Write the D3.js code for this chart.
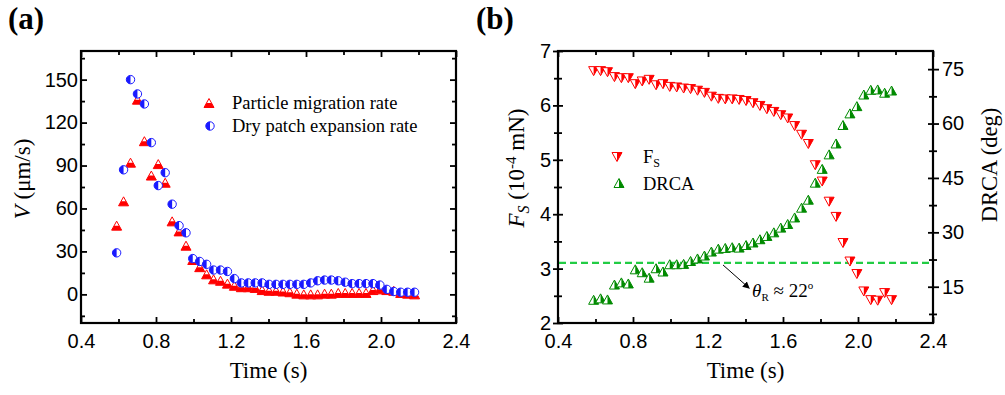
<!DOCTYPE html>
<html><head><meta charset="utf-8">
<script src="https://cdn.jsdelivr.net/npm/d3@7"></script>
<style>body{margin:0;background:#fff;} svg{display:block;}</style>
</head><body><svg id="c" width="1005" height="395"></svg>
<script>
// ---------- data ----------
const time = [0.590,0.627,0.664,0.701,0.738,0.775,0.812,0.849,0.886,0.923,0.960,0.996,1.033,1.070,1.107,1.144,1.181,1.218,1.255,1.292,1.329,1.366,1.403,1.440,1.477,1.514,1.551,1.588,1.625,1.662,1.699,1.735,1.772,1.809,1.846,1.883,1.920,1.957,1.994,2.031,2.068,2.105,2.142,2.179];
const migrationRate = [48,65,92,136,107,83,91,78,51,44,34,24,19,14,10.5,9.5,7.5,6,5,5,4.5,3,2.5,2.5,2,1.5,0.5,0,0,0,0.5,0.5,1,1,1,1,1,3,3.5,3,2.5,1,0.5,0];
const dryPatchRate = [29,87,150,140,133,106,76,85,63,48,43,25,23,21,17,17,16,11,8,8,8,8,7,7,7,7,7,7,8,9.5,10,10,9.5,8.5,7.5,7.5,7.5,7.5,6.5,3.5,2,1.5,1.5,1.5];
const fsForce = [6.63,6.63,6.61,6.52,6.50,6.50,6.39,6.44,6.47,6.37,6.39,6.34,6.33,6.31,6.30,6.27,6.23,6.16,6.12,6.11,6.11,6.10,6.08,6.04,5.99,5.93,5.88,5.82,5.76,5.62,5.46,5.29,4.90,4.60,4.23,3.95,3.47,3.13,2.90,2.58,2.42,2.41,2.55,2.42];
const drca = [11.4,11.8,11.5,15.6,16.2,15.9,19.8,19.0,17.5,20.1,19.2,21.2,21.2,21.3,22.1,22.8,23.6,24.7,25.5,25.7,25.9,25.8,26.5,27.2,28.1,29.0,30.0,31.3,32.3,34.1,36.8,39.0,43.7,47.5,51.5,54.5,59.6,62.8,64.8,68.0,69.3,69.4,68.5,69.1];
const xTicks = [0.4,0.8,1.2,1.6,2.0,2.4];
const xMinor = [0.6,1.0,1.4,1.8,2.2];
const vTicks = [0,30,60,90,120,150];
const vMinor = [-15,15,45,75,105,135,165];
const fsTicks = [2,3,4,5,6,7];
const fsMinor = [2.5,3.5,4.5,5.5,6.5];
const drcaTicks = [15,30,45,60,75];
const drcaMinor = [7.5,22.5,37.5,52.5,67.5];
const legendA = ["Particle migration rate","Dry patch expansion rate"];
const thetaR = 22;
const dashLevel = 21.6;
const arrowFrom = [1.28, 21];
const arrowTo = [1.42, 14.6];
const thetaLabelPos = [1.435, 12.2];

// ---------- setup ----------
const svg = d3.select('#c');
const SANS = "'Liberation Sans', Arial, sans-serif";
const SERIF = "'Liberation Serif', 'Times New Roman', serif";
const RED = "#ff0000", BLUE = "#1a1aff", GREEN = "#008a00", DASH = "#22cc44";

const A = {l:81, r:456, t:51, b:323};
const B = {l:558, r:933, t:51, b:323};
const xa = d3.scaleLinear().domain([0.4,2.4]).range([A.l,A.r]);
const ya = d3.scaleLinear().domain([-20,170]).range([A.b,A.t]);
const xb = d3.scaleLinear().domain([0.4,2.4]).range([B.l,B.r]);
const yb = d3.scaleLinear().domain([2,7]).range([B.b,B.t]);
const yb2 = d3.scaleLinear().domain([5,80]).range([B.b,B.t]);

svg.append('rect').attr('width',1005).attr('height',395).attr('fill','#fff');

function styleAxis(g, fs){
  g.select('.domain').remove();
  g.selectAll('.tick line').attr('stroke','#000').attr('stroke-width',1.8);
  g.selectAll('.tick text').attr('fill','#000').style('font-family',SANS).style('font-size',(fs||20)+'px');
}
function addAxis(axis, tx, ty, fs){
  const g = svg.append('g').attr('transform',`translate(${tx},${ty})`).call(axis);
  styleAxis(g, fs); return g;
}
const fmt1 = d3.format('.1f');
const fmt0 = d3.format('d');

// ---------- panel (a) ----------
addAxis(d3.axisBottom(xa).tickValues(xTicks).tickFormat(fmt1).tickSizeInner(-6).tickSizeOuter(0).tickPadding(11), 0, A.b);
addAxis(d3.axisBottom(xa).tickValues(xMinor).tickFormat('').tickSizeInner(-4).tickSizeOuter(0), 0, A.b);
addAxis(d3.axisTop(xa).tickValues(xTicks).tickFormat('').tickSizeInner(-6).tickSizeOuter(0), 0, A.t);
addAxis(d3.axisTop(xa).tickValues(xMinor).tickFormat('').tickSizeInner(-4).tickSizeOuter(0), 0, A.t);
addAxis(d3.axisLeft(ya).tickValues(vTicks).tickFormat(fmt0).tickSizeInner(-6).tickSizeOuter(0).tickPadding(3), A.l, 0);
addAxis(d3.axisLeft(ya).tickValues(vMinor).tickFormat('').tickSizeInner(-4).tickSizeOuter(0), A.l, 0);
addAxis(d3.axisRight(ya).tickValues(vTicks).tickFormat('').tickSizeInner(-6).tickSizeOuter(0), A.r, 0);
addAxis(d3.axisRight(ya).tickValues(vMinor).tickFormat('').tickSizeInner(-4).tickSizeOuter(0), A.r, 0);
svg.append('rect').attr('x',A.l).attr('y',A.t).attr('width',A.r-A.l).attr('height',A.b-A.t)
  .attr('fill','none').attr('stroke','#000').attr('stroke-width',2.2);

// marker paths
const TW = 10, TH = 9, CR = 4.2;
const triUp = `M0,${-TH/2}L${TW/2},${TH/2}L${-TW/2},${TH/2}Z`;
const triUpBottom = `M${-TW/4},0L${TW/4},0L${TW/2},${TH/2}L${-TW/2},${TH/2}Z`;
const triUpRight = `M0,${-TH/2}L${TW/2},${TH/2}L0,${TH/2}Z`;
const triDown = `M${-TW/2},${-TH/2}L${TW/2},${-TH/2}L0,${TH/2}Z`;
const triDownRight = `M0,${-TH/2}L${TW/2},${-TH/2}L0,${TH/2}Z`;
const circLeft = `M0,${-CR}A${CR},${CR} 0 0 0 0,${CR}Z`;

function drawMarker(m, outline, half, color, isCircle){
  if(isCircle){
    m.append('circle').attr('r',CR).attr('fill','#fff').attr('stroke',color).attr('stroke-width',1);
  } else {
    m.append('path').attr('d',outline).attr('fill','#fff').attr('stroke',color).attr('stroke-width',1);
  }
  m.append('path').attr('d',half).attr('fill',color).attr('stroke','none');
}
function drawMarkers(data, xs, ys, outline, half, color, isCircle){
  const g = svg.append('g');
  g.selectAll('g').data(data).join('g')
    .attr('transform', d => `translate(${xs(d[0])},${ys(d[1])})`)
    .each(function(){ drawMarker(d3.select(this), outline, half, color, isCircle); });
}
function legendMarker(x,y,outline,half,color,isCircle){
  drawMarker(svg.append('g').attr('transform',`translate(${x},${y})`), outline, half, color, isCircle);
}

drawMarkers(time.map((t,i)=>[t,migrationRate[i]]), xa, ya, triUp, triUpBottom, RED, false);
drawMarkers(time.map((t,i)=>[t,dryPatchRate[i]]), xa, ya, null, circLeft, BLUE, true);

// legend (a)
legendMarker(209,103,triUp,triUpBottom,RED,false);
legendMarker(210,126,null,circLeft,BLUE,true);
svg.append('text').attr('x',232).attr('y',109).text(legendA[0])
  .style('font-family',SERIF).style('font-size','18.5px');
svg.append('text').attr('x',232).attr('y',132).text(legendA[1])
  .style('font-family',SERIF).style('font-size','18.5px');

// titles (a)
svg.append('text').attr('x',(A.l+A.r)/2).attr('y',378).attr('text-anchor','middle')
  .style('font-family',SERIF).style('font-size','23px').text('Time (s)');
const ta = svg.append('text').attr('transform','translate(30,179) rotate(-90)').attr('text-anchor','middle')
  .style('font-family',SERIF).style('font-size','23px');
ta.append('tspan').style('font-style','italic').text('V');
ta.append('tspan').text(' (μm/s)');
svg.append('text').attr('x',8).attr('y',29).style('font-family',SERIF).style('font-size','31px')
  .style('font-weight','bold').text('(a)');

// ---------- panel (b) ----------
addAxis(d3.axisBottom(xb).tickValues(xTicks).tickFormat(fmt1).tickSizeInner(-6).tickSizeOuter(0).tickPadding(11), 0, B.b);
addAxis(d3.axisBottom(xb).tickValues(xMinor).tickFormat('').tickSizeInner(-4).tickSizeOuter(0), 0, B.b);
addAxis(d3.axisTop(xb).tickValues(xTicks).tickFormat('').tickSizeInner(-6).tickSizeOuter(0), 0, B.t);
addAxis(d3.axisTop(xb).tickValues(xMinor).tickFormat('').tickSizeInner(-4).tickSizeOuter(0), 0, B.t);
addAxis(d3.axisLeft(yb).tickValues(fsTicks).tickFormat(fmt0).tickSizeInner(5).tickSizeOuter(0).tickPadding(2), B.l, 0);
addAxis(d3.axisLeft(yb).tickValues(fsTicks).tickFormat('').tickSizeInner(-5).tickSizeOuter(0), B.l, 0);
addAxis(d3.axisLeft(yb).tickValues(fsMinor).tickFormat('').tickSizeInner(4).tickSizeOuter(0), B.l, 0);
addAxis(d3.axisLeft(yb).tickValues(fsMinor).tickFormat('').tickSizeInner(-4).tickSizeOuter(0), B.l, 0);
addAxis(d3.axisRight(yb2).tickValues(drcaTicks).tickFormat(fmt0).tickSizeInner(6).tickSizeOuter(0).tickPadding(3), B.r, 0);
addAxis(d3.axisRight(yb2).tickValues(drcaTicks).tickFormat('').tickSizeInner(-5).tickSizeOuter(0), B.r, 0);
addAxis(d3.axisRight(yb2).tickValues(drcaMinor).tickFormat('').tickSizeInner(4).tickSizeOuter(0), B.r, 0);
addAxis(d3.axisRight(yb2).tickValues(drcaMinor).tickFormat('').tickSizeInner(-4).tickSizeOuter(0), B.r, 0);
svg.append('rect').attr('x',B.l).attr('y',B.t).attr('width',B.r-B.l).attr('height',B.b-B.t)
  .attr('fill','none').attr('stroke','#000').attr('stroke-width',2.2);

// dashed theta_R line (on DRCA axis)
svg.append('line').attr('x1',B.l+1).attr('x2',B.r-1).attr('y1',yb2(dashLevel)).attr('y2',yb2(dashLevel))
  .attr('stroke',DASH).attr('stroke-width',2.2).attr('stroke-dasharray','7,4');

drawMarkers(time.map((t,i)=>[t,fsForce[i]]), xb, yb, triDown, triDownRight, RED, false);
drawMarkers(time.map((t,i)=>[t,drca[i]]), xb, yb2, triUp, triUpRight, GREEN, false);

// legend (b)
legendMarker(617,157,triDown,triDownRight,RED,false);
legendMarker(619,183,triUp,triUpRight,GREEN,false);
const lf = svg.append('text').attr('x',643).attr('y',163).style('font-family',SERIF).style('font-size','18.5px');
lf.append('tspan').text('F');
lf.append('tspan').attr('dy',4).style('font-size','12px').text('S');
svg.append('text').attr('x',643).attr('y',190).style('font-family',SERIF).style('font-size','18.5px').text('DRCA');

// arrow + annotation
const defs = svg.append('defs');
defs.append('marker').attr('id','ah').attr('viewBox','0 0 10 10').attr('refX',9).attr('refY',5)
  .attr('markerWidth',7).attr('markerHeight',7).attr('orient','auto')
  .append('path').attr('d','M0,0L10,5L0,10Z').attr('fill','#000');
svg.append('line').attr('x1',xb(arrowFrom[0])).attr('y1',yb2(arrowFrom[1]))
  .attr('x2',xb(arrowTo[0])).attr('y2',yb2(arrowTo[1]))
  .attr('stroke','#000').attr('stroke-width',1).attr('marker-end','url(#ah)');
const an = svg.append('text').attr('x',xb(thetaLabelPos[0])).attr('y',yb2(thetaLabelPos[1]))
  .style('font-family',SERIF).style('font-size','19px');
an.append('tspan').style('font-style','italic').text('θ');
an.append('tspan').attr('dy',4).style('font-size','11px').text('R');
an.append('tspan').attr('dy',-4).text(' ≈ ' + thetaR);
an.append('tspan').attr('dy',-8).style('font-size','11px').text('o');

// titles (b)
svg.append('text').attr('x',(B.l+B.r)/2).attr('y',378).attr('text-anchor','middle')
  .style('font-family',SERIF).style('font-size','23px').text('Time (s)');
const tb = svg.append('text').attr('transform','translate(524,168) rotate(-90)').attr('text-anchor','middle')
  .style('font-family',SERIF).style('font-size','23px');
tb.append('tspan').style('font-style','italic').text('F');
tb.append('tspan').attr('dy',5).style('font-style','italic').style('font-size','16px').text('S');
tb.append('tspan').attr('dy',-5).text(' (10');
tb.append('tspan').attr('dy',-8).style('font-size','15px').text('-4');
tb.append('tspan').attr('dy',8).text(' mN)');
svg.append('text').attr('transform','translate(997,165) rotate(-90)').attr('text-anchor','middle')
  .style('font-family',SERIF).style('font-size','22.5px').text('DRCA (deg)');
svg.append('text').attr('x',476).attr('y',29).style('font-family',SERIF).style('font-size','31px')
  .style('font-weight','bold').text('(b)');
</script></body></html>
